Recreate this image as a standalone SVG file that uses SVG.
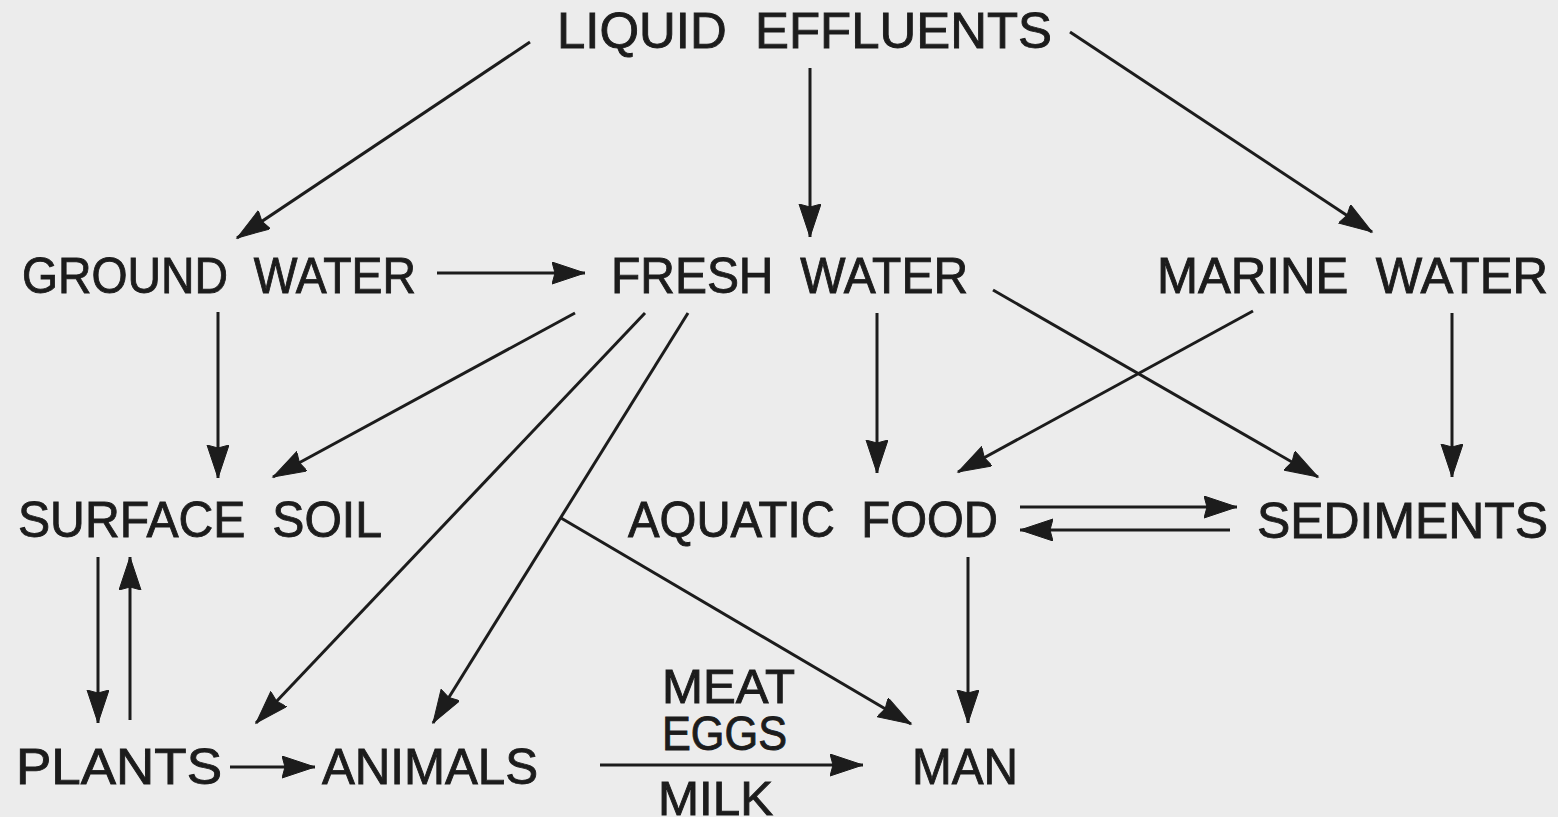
<svg xmlns="http://www.w3.org/2000/svg" width="1558" height="817" viewBox="0 0 1558 817">
<style>
text{font-family:"Liberation Sans",Arial,sans-serif;font-size:50px;fill:#1c1c1c;stroke:#1c1c1c;stroke-width:0.9;word-spacing:14px}
#labels text{font-size:48px}
.c line{stroke:#1c1c1c;stroke-width:3;fill:none}
.a{marker-end:url(#ah)}
</style>
<defs>
<marker id="ah" markerUnits="userSpaceOnUse" markerWidth="36" markerHeight="24" refX="33" refY="11" orient="auto">
<path d="M0,0 L33,11 L0,22 L3,11 Z" fill="#1c1c1c" stroke="#1c1c1c" stroke-width="1"/>
</marker>
</defs>
<rect width="1558" height="817" fill="#ececec"/>
<g id="liquid"><text x="557" y="48" textLength="495" lengthAdjust="spacingAndGlyphs">LIQUID EFFLUENTS</text></g>
<g id="ground"><text x="22" y="293" textLength="394" lengthAdjust="spacingAndGlyphs">GROUND WATER</text></g>
<g id="fresh"><text x="611" y="293" textLength="357" lengthAdjust="spacingAndGlyphs">FRESH WATER</text></g>
<g id="marine"><text x="1157" y="293" textLength="391" lengthAdjust="spacingAndGlyphs">MARINE WATER</text></g>
<g id="soil"><text x="18" y="537" textLength="364" lengthAdjust="spacingAndGlyphs">SURFACE SOIL</text></g>
<g id="aquatic"><text x="628" y="537" textLength="370" lengthAdjust="spacingAndGlyphs">AQUATIC FOOD</text></g>
<g id="sediments"><text x="1257" y="538" textLength="291" lengthAdjust="spacingAndGlyphs">SEDIMENTS</text></g>
<g id="plants"><text x="16" y="784" textLength="206" lengthAdjust="spacingAndGlyphs">PLANTS</text></g>
<g id="animals"><text x="322" y="784" textLength="216" lengthAdjust="spacingAndGlyphs">ANIMALS</text></g>
<g id="man"><text x="912" y="784" textLength="106" lengthAdjust="spacingAndGlyphs">MAN</text></g>
<g class="c" id="connectors">
<line class="a" x1="530" y1="42" x2="237" y2="238"/>
<line class="a" x1="810" y1="68" x2="810" y2="237"/>
<line class="a" x1="1070" y1="32" x2="1372" y2="232"/>
<line class="a" x1="437" y1="273" x2="585" y2="273"/>
<line class="a" x1="218" y1="312" x2="218" y2="478"/>
<line class="a" x1="575" y1="313" x2="273" y2="477"/>
<line class="a" x1="645" y1="313" x2="256" y2="723"/>
<line class="a" x1="688" y1="313" x2="433" y2="723"/>
<line class="a" x1="561" y1="518" x2="911" y2="724"/>
<line class="a" x1="877" y1="313" x2="877" y2="473"/>
<line class="a" x1="993" y1="290" x2="1318" y2="477"/>
<line class="a" x1="1253" y1="311" x2="958" y2="472"/>
<line class="a" x1="1452" y1="313" x2="1452" y2="477"/>
<line class="a" x1="1020" y1="507" x2="1237" y2="507"/>
<line class="a" x1="1230" y1="530" x2="1020" y2="530"/>
<line class="a" x1="968" y1="557" x2="968" y2="723"/>
<line class="a" x1="98" y1="557" x2="98" y2="723"/>
<line class="a" x1="130" y1="720" x2="130" y2="557"/>
<line class="a" x1="230" y1="767" x2="315" y2="767"/>
<line class="a" x1="600" y1="765" x2="863" y2="765"/>
</g>
<g id="labels">
<text x="662" y="703" textLength="133" lengthAdjust="spacingAndGlyphs">MEAT</text>
<text x="662" y="750" textLength="125" lengthAdjust="spacingAndGlyphs">EGGS</text>
<text x="658" y="815" textLength="115" lengthAdjust="spacingAndGlyphs">MILK</text>
</g>
</svg>
